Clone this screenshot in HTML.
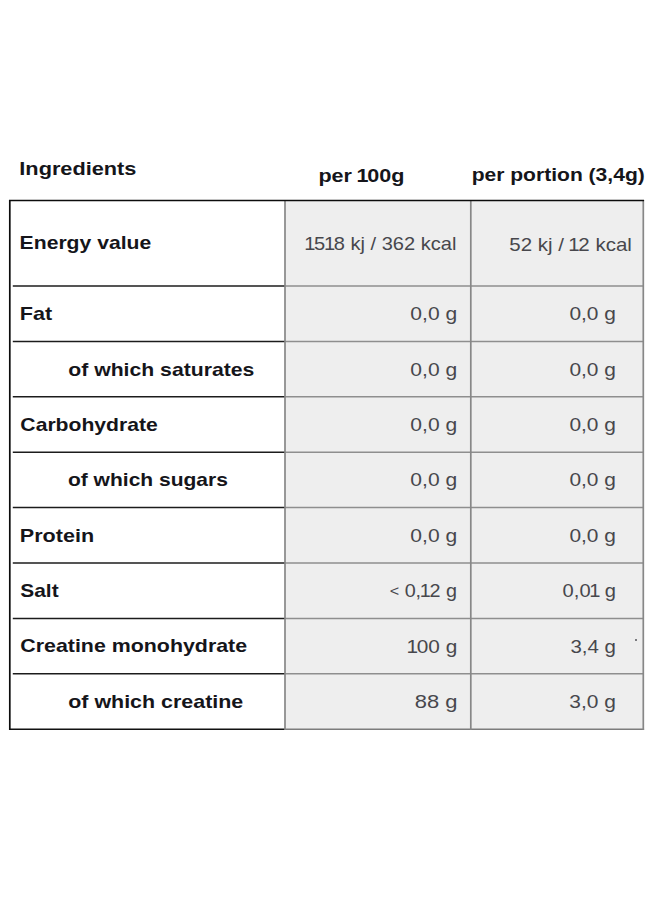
<!DOCTYPE html>
<html lang="en">
<head>
<meta charset="utf-8">
<title>Nutrition facts</title>
<style>
html,body{margin:0;padding:0;background:#fff;}
body{width:660px;height:900px;position:relative;overflow:hidden;font-family:"Liberation Sans",sans-serif;}
.grid{position:absolute;left:0;top:0;width:660px;height:900px;display:block;}
.t{position:absolute;left:0;white-space:pre;transform-origin:0 0;line-height:20px;height:20px;margin:0;padding:0;}
.speck{position:absolute;left:635px;top:639.4px;width:2px;height:1.6px;border-radius:1px;background:#55555a;}
.n1{margin:0 -1.2px;}
.lt{font-size:15px;position:relative;top:-0.6px;}
.b{font-weight:bold;font-size:18.4px;color:#15151a;}
.r{font-weight:normal;font-size:18.4px;color:#47474c;}
</style>
</head>
<body>
<svg class="grid" aria-hidden="true" width="660" height="900" viewBox="0 0 660 900">
<rect x="285.0" y="200.6" width="358.3" height="528.6" fill="#eeeeee"/>
<line x1="12.8" y1="286.0" x2="285.0" y2="286.0" stroke="#1c1c1c" stroke-width="1.5"/>
<line x1="285.0" y1="286.0" x2="643.3" y2="286.0" stroke="#8e8e8e" stroke-width="1.5"/>
<line x1="12.8" y1="341.4" x2="285.0" y2="341.4" stroke="#1c1c1c" stroke-width="1.5"/>
<line x1="285.0" y1="341.4" x2="643.3" y2="341.4" stroke="#8e8e8e" stroke-width="1.5"/>
<line x1="12.8" y1="396.8" x2="285.0" y2="396.8" stroke="#1c1c1c" stroke-width="1.5"/>
<line x1="285.0" y1="396.8" x2="643.3" y2="396.8" stroke="#8e8e8e" stroke-width="1.5"/>
<line x1="12.8" y1="452.2" x2="285.0" y2="452.2" stroke="#1c1c1c" stroke-width="1.5"/>
<line x1="285.0" y1="452.2" x2="643.3" y2="452.2" stroke="#8e8e8e" stroke-width="1.5"/>
<line x1="12.8" y1="507.6" x2="285.0" y2="507.6" stroke="#1c1c1c" stroke-width="1.5"/>
<line x1="285.0" y1="507.6" x2="643.3" y2="507.6" stroke="#8e8e8e" stroke-width="1.5"/>
<line x1="12.8" y1="563.0" x2="285.0" y2="563.0" stroke="#1c1c1c" stroke-width="1.5"/>
<line x1="285.0" y1="563.0" x2="643.3" y2="563.0" stroke="#8e8e8e" stroke-width="1.5"/>
<line x1="12.8" y1="618.4" x2="285.0" y2="618.4" stroke="#1c1c1c" stroke-width="1.5"/>
<line x1="285.0" y1="618.4" x2="643.3" y2="618.4" stroke="#8e8e8e" stroke-width="1.5"/>
<line x1="12.8" y1="673.8" x2="285.0" y2="673.8" stroke="#1c1c1c" stroke-width="1.5"/>
<line x1="285.0" y1="673.8" x2="643.3" y2="673.8" stroke="#8e8e8e" stroke-width="1.5"/>
<line x1="9.0" y1="729.2" x2="285.0" y2="729.2" stroke="#111" stroke-width="1.5"/>
<line x1="285.0" y1="729.2" x2="644.1" y2="729.2" stroke="#7c7c7c" stroke-width="1.5"/>
<line x1="285.0" y1="200.6" x2="285.0" y2="729.9" stroke="#878787" stroke-width="1.7"/>
<line x1="470.8" y1="200.6" x2="470.8" y2="729.9" stroke="#878787" stroke-width="1.7"/>
<line x1="643.3" y1="200.6" x2="643.3" y2="729.9" stroke="#878787" stroke-width="1.7"/>
<line x1="9.8" y1="199.9" x2="9.8" y2="729.9" stroke="#0c0c0c" stroke-width="1.7"/>
<line x1="9.0" y1="200.6" x2="644.1" y2="200.6" stroke="#0c0c0c" stroke-width="1.5"/>
</svg>
<div class="t b" style="top:159px;transform:translate(19.33px,0) scaleX(1.1815)">Ingredients</div>
<div class="t b" style="top:166px;transform:translate(318.38px,0) scaleX(1.1729)">per <span class="n1">1</span>00g</div>
<div class="t b" style="top:165px;transform:translate(471.65px,0) scaleX(1.1448)">per portion (3,4g)</div>
<div class="t b" style="top:233px;transform:translate(19.62px,0) scaleX(1.1493)">Energy value</div>
<div class="t r" style="top:234px;transform:translate(305.47px,0) scaleX(1.0906)"><span class="n1">1</span>5<span class="n1">1</span>8 kj / 362 kcal</div>
<div class="t r" style="top:235px;transform:translate(509.26px,0) scaleX(1.1137)">52 kj / <span class="n1">1</span>2 kcal</div>
<div class="t b" style="top:304px;transform:translate(19.81px,0) scaleX(1.1737)">Fat</div>
<div class="t b" style="top:360px;transform:translate(68.27px,0) scaleX(1.1526)">of which saturates</div>
<div class="t b" style="top:415px;transform:translate(20.36px,0) scaleX(1.1494)">Carbohydrate</div>
<div class="t b" style="top:470px;transform:translate(67.94px,0) scaleX(1.1428)">of which sugars</div>
<div class="t b" style="top:526px;transform:translate(19.82px,0) scaleX(1.1726)">Protein</div>
<div class="t b" style="top:581px;transform:translate(20.28px,0) scaleX(1.1372)">Salt</div>
<div class="t b" style="top:636px;transform:translate(20.29px,0) scaleX(1.1619)">Creatine monohydrate</div>
<div class="t b" style="top:692px;transform:translate(68.22px,0) scaleX(1.1653)">of which creatine</div>
<div class="t r" style="top:304px;transform:translate(410.35px,0) scaleX(1.1441)">0,0 g</div>
<div class="t r" style="top:304px;transform:translate(569.42px,0) scaleX(1.1363)">0,0 g</div>
<div class="t r" style="top:360px;transform:translate(410.35px,0) scaleX(1.1441)">0,0 g</div>
<div class="t r" style="top:360px;transform:translate(569.42px,0) scaleX(1.1363)">0,0 g</div>
<div class="t r" style="top:415px;transform:translate(410.35px,0) scaleX(1.1441)">0,0 g</div>
<div class="t r" style="top:415px;transform:translate(569.42px,0) scaleX(1.1363)">0,0 g</div>
<div class="t r" style="top:470px;transform:translate(410.35px,0) scaleX(1.1441)">0,0 g</div>
<div class="t r" style="top:470px;transform:translate(569.42px,0) scaleX(1.1363)">0,0 g</div>
<div class="t r" style="top:526px;transform:translate(410.35px,0) scaleX(1.1441)">0,0 g</div>
<div class="t r" style="top:526px;transform:translate(569.42px,0) scaleX(1.1363)">0,0 g</div>
<div class="t r" style="top:581px;transform:translate(389.71px,0) scaleX(1.0750)"><span class="lt">&lt;</span> 0,<span class="n1">1</span>2 g</div>
<div class="t r" style="top:581px;transform:translate(562.60px,0) scaleX(1.0949)">0,0<span class="n1">1</span> g</div>
<div class="t r" style="top:637px;transform:translate(407.92px,0) scaleX(1.1295)"><span class="n1">1</span>00 g</div>
<div class="t r" style="top:637px;transform:translate(570.39px,0) scaleX(1.1128)">3,4 g</div>
<div class="t r" style="top:692px;transform:translate(414.72px,0) scaleX(1.1931)">88 g</div>
<div class="t r" style="top:692px;transform:translate(569.37px,0) scaleX(1.1394)">3,0 g</div>
<div class="speck"></div>
</body>
</html>
